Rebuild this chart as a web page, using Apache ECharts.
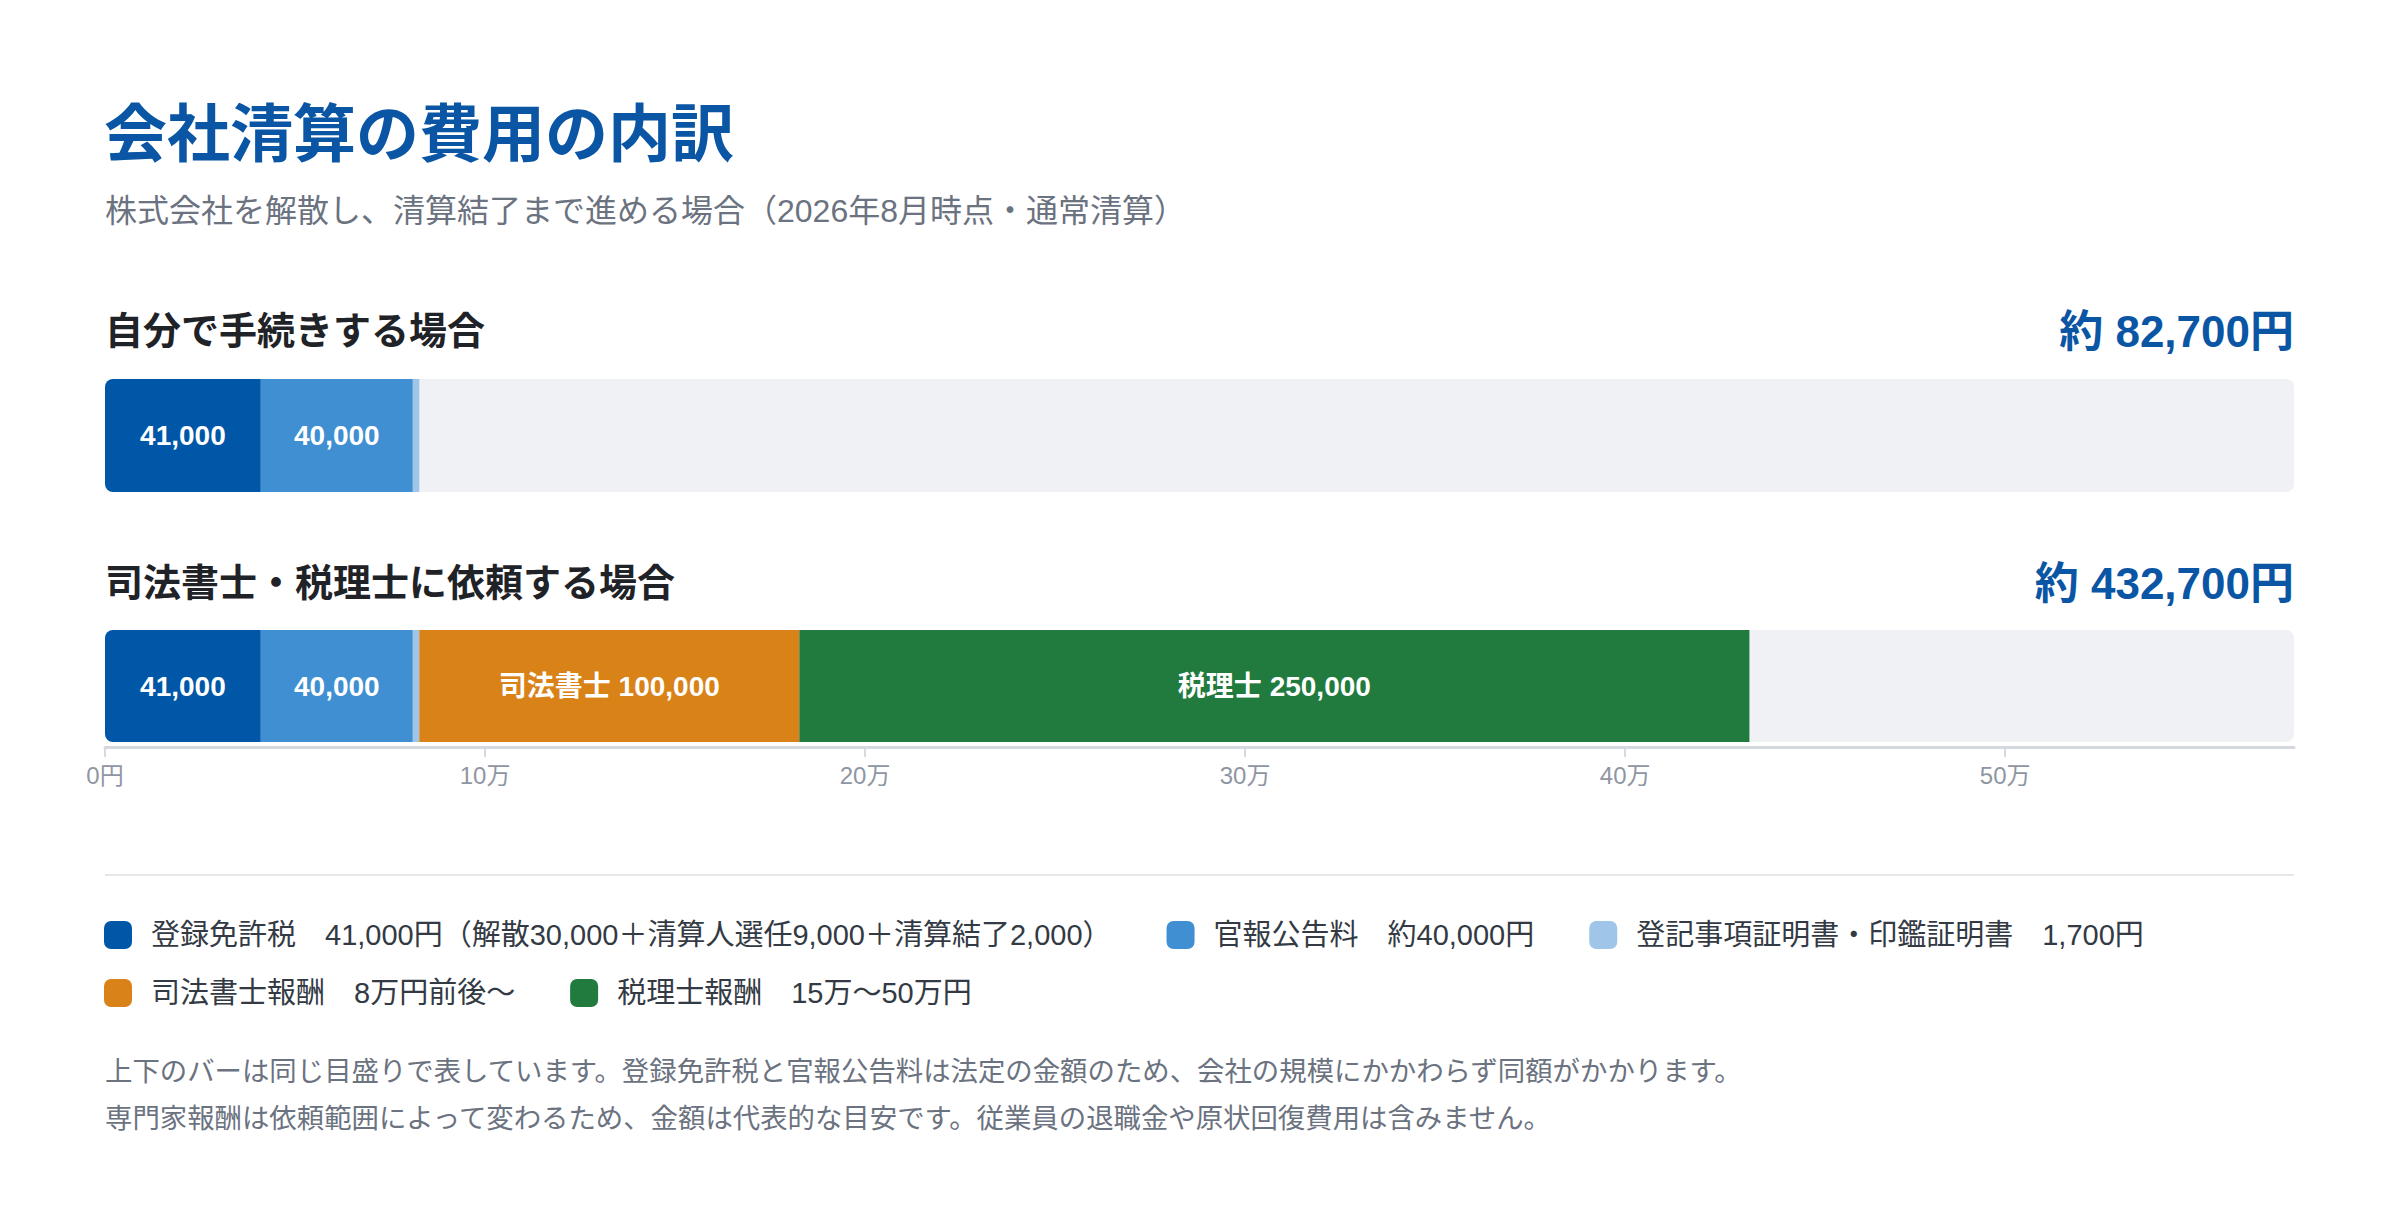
<!DOCTYPE html>
<html>
<head>
<meta charset="utf-8">
<script src="https://cdn.jsdelivr.net/npm/echarts@6/dist/echarts.min.js"></script>
<style>
html,body{margin:0;padding:0;background:#fff;}
#chart{width:2400px;height:1224px;}
</style>
</head>
<body>
<div id="chart"></div>
<script>
// ---- data ----
const categories = ['自分で手続きする場合', '司法書士・税理士に依頼する場合'];
const seriesNames = ['登録免許税', '官報公告料', '登記事項証明書・印鑑証明書', '司法書士報酬', '税理士報酬'];
const registrationTax = [41000, 41000];
const gazetteFee = [40000, 40000];
const certificateFee = [1700, 1700];
const scrivenerFee = [0, 100000];
const taxAccountantFee = [0, 250000];
const tickValues = [0, 100000, 200000, 300000, 400000, 500000];
const tickLabels = ['0円', '10万', '20万', '30万', '40万', '50万'];
const legendDetails = [
  '41,000円（解散30,000＋清算人選任9,000＋清算結了2,000）',
  '約40,000円',
  '1,700円',
  '8万円前後〜',
  '15万〜50万円'
];
const barLabelPrefix = ['', '', '', '司法書士 ', '税理士 '];
const titleText = '会社清算の費用の内訳';
const subtitleText = '株式会社を解散し、清算結了まで進める場合（2026年8月時点・通常清算）';
const notes = [
  '上下のバーは同じ目盛りで表しています。登録免許税と官報公告料は法定の金額のため、会社の規模にかかわらず同額がかかります。',
  '専門家報酬は依頼範囲によって変わるため、金額は代表的な目安です。従業員の退職金や原状回復費用は含みません。'
];

// ---- style ----
const colors = ['#0057a8', '#3f8fd2', '#9fc5e8', '#d98218', '#217a3e'];
const FONT = "'Liberation Sans', 'Noto Sans CJK JP', sans-serif";
const AXIS_MAX = 576000;

const valueSets = [registrationTax, gazetteFee, certificateFee, scrivenerFee, taxAccountantFee];
const totals = categories.map((c, i) => valueSets.reduce((s, arr) => s + arr[i], 0));
const fmt = n => n.toLocaleString('en-US');

const gridTops = [379, 630];
const barHeights = [113, 112];

const grids = gridTops.map((t, i) => ({left: 105, right: 106, top: t, height: barHeights[i]}));
const xAxes = gridTops.map((t, i) => ({
  type: 'value', gridIndex: i, min: 0, max: AXIS_MAX,
  show: i === 1,
  offset: 5,
  splitLine: {show: false},
  axisLine: {show: true, lineStyle: {color: '#d5d8de', width: 3}},
  axisTick: {show: true, customValues: tickValues, length: 10, lineStyle: {color: '#d5d8de', width: 2}},
  axisLabel: {
    show: true, customValues: tickValues, margin: 16,
    color: '#8f96a3', fontSize: 24, fontFamily: FONT,
    formatter: v => tickLabels[tickValues.indexOf(v)]
  }
}));
const yAxes = gridTops.map((t, i) => ({
  type: 'category', gridIndex: i, data: [categories[i]], show: false
}));

const series = [];
categories.forEach((cat, row) => {
  valueSets.forEach((arr, k) => {
    if (!arr[row]) return;
    series.push({
      name: seriesNames[k],
      type: 'bar',
      xAxisIndex: row, yAxisIndex: row,
      stack: 'row' + row,
      barWidth: barHeights[row],
      data: [arr[row]],
      itemStyle: {color: colors[k], borderRadius: k === 0 ? [8, 0, 0, 8] : 0},
      showBackground: k === 0,
      backgroundStyle: {color: '#f0f1f4', borderRadius: 8},
      label: {
        show: k !== 2, position: 'inside', color: '#fff',
        fontSize: 28, fontWeight: 'bold', fontFamily: FONT,
        formatter: p => barLabelPrefix[k] + fmt(p.value)
      },
      emphasis: {disabled: true},
      silent: true
    });
  });
});

const legendRows = [[0, 1, 2], [3, 4]];
const legends = legendRows.map((idxs, r) => ({
  show: true, selectedMode: false,
  left: 104, top: 920 + r * 58,
  padding: 0,
  orient: 'horizontal',
  icon: 'roundRect', itemWidth: 28, itemHeight: 28, itemGap: 55,
  data: idxs.map(k => seriesNames[k]),
  formatter: name => name + '　' + legendDetails[seriesNames.indexOf(name)],
  textStyle: {color: '#333a44', fontSize: 29, fontFamily: FONT, lineHeight: 30, padding: [0, 0, 0, 14]}
}));

const sectionCenters = [331, 583];
const graphics = [
  {type: 'text', style: {x: 104, y: 134, text: titleText, fill: '#0a56a5', font: 'bold 63px ' + FONT, textVerticalAlign: 'middle'}},
  {type: 'text', style: {x: 105, y: 211, text: subtitleText, fill: '#6b7280', font: '32px ' + FONT, textVerticalAlign: 'middle'}},
  {type: 'rect', shape: {x: 105, y: 874, width: 2189, height: 2}, style: {fill: '#e5e7eb'}}
];
categories.forEach((cat, i) => {
  graphics.push({type: 'text', style: {x: 105, y: sectionCenters[i], text: cat, fill: '#1f2328', font: 'bold 38px ' + FONT, textVerticalAlign: 'middle'}});
  graphics.push({type: 'text', style: {x: 2294, y: sectionCenters[i], text: '約 ' + fmt(totals[i]) + '円', fill: '#0a56a5', font: 'bold 44px ' + FONT, textAlign: 'right', textVerticalAlign: 'middle'}});
});
notes.forEach((n, i) => {
  graphics.push({type: 'text', style: {x: 105, y: 1071 + i * 47, text: n, fill: '#6b7280', font: '27.4px ' + FONT, textVerticalAlign: 'middle'}});
});

const chart = echarts.init(document.getElementById('chart'), null, {renderer: 'svg'});
chart.setOption({
  backgroundColor: '#ffffff',
  animation: false,
  grid: grids,
  xAxis: xAxes,
  yAxis: yAxes,
  legend: legends,
  series: series,
  graphic: graphics
});
</script>
</body>
</html>
